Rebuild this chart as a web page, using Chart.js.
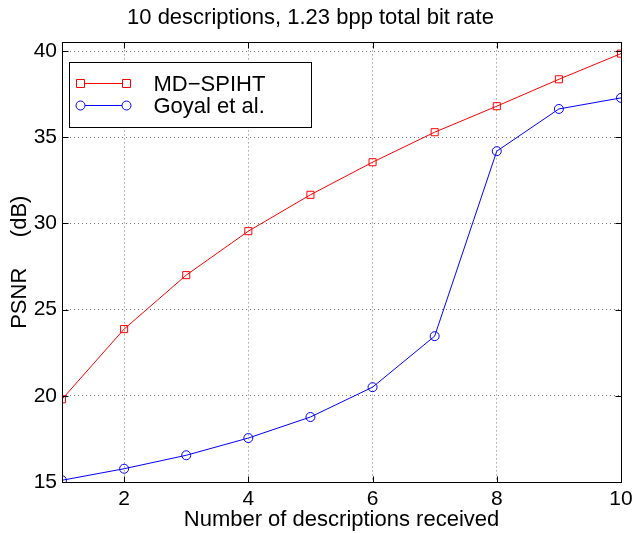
<!DOCTYPE html>
<html>
<head>
<meta charset="utf-8">
<script src="https://cdn.jsdelivr.net/npm/chart.js@4/dist/chart.umd.min.js"></script>
<style>
  html, body { margin: 0; padding: 0; background: #fff; }
  canvas { display: block; }
</style>
</head>
<body>
<canvas id="c" width="634" height="533"></canvas>
<script>
// Number of descriptions received
const descriptions = [1, 2, 3, 4, 5, 6, 7, 8, 9, 10];
// PSNR (dB) for each scheme
const mdSpiht = [19.8, 23.87, 27.0, 29.55, 31.66, 33.55, 35.29, 36.8, 38.36, 39.85];
const goyal   = [15.1, 15.77, 16.55, 17.55, 18.77, 20.5, 23.46, 34.19, 36.64, 37.28];
// Axis ticks
const xTicks = [2, 4, 6, 8, 10];
const yTicks = [15, 20, 25, 30, 35, 40];

const FONT = 'Liberation Sans, Arial, Helvetica, sans-serif';
const pts = arr => arr.map((v, i) => ({ x: descriptions[i], y: v }));

// Box, inward tick marks and in-plot legend (MATLAB style)
const framePlugin = {
  id: 'frame',
  afterDraw(chart) {
    const { ctx, chartArea: a, scales } = chart;
    const L = Math.round(a.left) + 0.5, R = Math.round(a.right) + 0.5;
    const T = Math.round(a.top) + 0.5, B = Math.round(a.bottom) + 0.5;
    const tick = 6;
    ctx.save();
    ctx.strokeStyle = '#000';
    ctx.lineWidth = 1;
    ctx.beginPath();
    xTicks.forEach(v => {
      const x = Math.round(scales.x.getPixelForValue(v)) + 0.5;
      ctx.moveTo(x, B); ctx.lineTo(x, B - tick);
      ctx.moveTo(x, T); ctx.lineTo(x, T + tick);
    });
    yTicks.forEach(v => {
      const y = Math.round(scales.y.getPixelForValue(v)) + 0.5;
      ctx.moveTo(L, y); ctx.lineTo(L + tick, y);
      ctx.moveTo(R, y); ctx.lineTo(R - tick, y);
    });
    ctx.stroke();
    ctx.strokeRect(L, T, R - L, B - T);

    // legend
    const lx = L + 7, ly = T + 20, lw = 242, lh = 65;
    ctx.fillStyle = '#fff';
    ctx.fillRect(lx, ly, lw, lh);
    ctx.strokeStyle = '#000';
    ctx.strokeRect(lx, ly, lw, lh);
    const entries = [
      { text: chart.data.datasets[0].label, color: chart.data.datasets[0].borderColor, shape: 'rect', y: ly + 21 },
      { text: chart.data.datasets[1].label, color: chart.data.datasets[1].borderColor, shape: 'circle', y: ly + 43 }
    ];
    entries.forEach(e => {
      const x1 = lx + 11, x2 = lx + 57;
      ctx.strokeStyle = e.color;
      ctx.beginPath(); ctx.moveTo(x1, e.y); ctx.lineTo(x2, e.y); ctx.stroke();
      [x1, x2].forEach(x => {
        ctx.beginPath();
        if (e.shape === 'rect') ctx.rect(x - 4, e.y - 4, 8, 8);
        else ctx.arc(x, e.y, 4.5, 0, Math.PI * 2);
        ctx.fillStyle = '#fff';
        ctx.fill();
        ctx.stroke();
      });
      ctx.fillStyle = '#000';
      ctx.font = '22px ' + FONT;
      ctx.textBaseline = 'middle';
      ctx.textAlign = 'left';
      ctx.fillText(e.text, lx + 84, e.y + 1);
    });
    ctx.restore();
  }
};

new Chart(document.getElementById('c'), {
  type: 'line',
  data: {
    datasets: [
      {
        label: 'MD\u2212SPIHT',
        data: pts(mdSpiht),
        borderColor: '#ff0000',
        backgroundColor: 'rgba(0,0,0,0)',
        borderWidth: 1,
        pointStyle: 'rect',
        pointRadius: 5,
        pointBorderWidth: 1,
        pointBackgroundColor: 'rgba(0,0,0,0)',
        tension: 0
      },
      {
        label: 'Goyal et al.',
        data: pts(goyal),
        borderColor: '#0000ff',
        backgroundColor: 'rgba(0,0,0,0)',
        borderWidth: 1,
        pointStyle: 'circle',
        pointRadius: 4.5,
        pointBorderWidth: 1,
        pointBackgroundColor: 'rgba(0,0,0,0)',
        tension: 0
      }
    ]
  },
  options: {
    responsive: false,
    animation: false,
    layout: { padding: { left: 0, right: 13, top: 0, bottom: 0 } },
    plugins: {
      legend: { display: false },
      tooltip: { enabled: false },
      title: {
        display: true,
        text: '10 descriptions, 1.23 bpp total bit rate',
        color: '#000',
        font: { family: FONT, size: 22, weight: 'normal', lineHeight: 1.2 },
        padding: { top: 5, bottom: 11 }
      }
    },
    scales: {
      x: {
        type: 'linear',
        min: 1,
        max: 10,
        afterBuildTicks: s => { s.ticks = xTicks.map(v => ({ value: v })); },
        afterFit: s => { s.height = 51; s.paddingLeft = 0; s.paddingRight = 0; },
        grid: {
          color: 'rgba(0,0,0,0.55)',
          lineWidth: 1,
          drawTicks: false
        },
        border: { display: false, dash: [1, 3] },
        ticks: {
          color: '#000',
          padding: 5,
          maxRotation: 0,
          font: { family: FONT, size: 21 }
        },
        title: {
          display: true,
          text: 'Number of descriptions received',
          color: '#000',
          font: { family: FONT, size: 22, lineHeight: 1.2 },
          padding: { top: 0, bottom: 0 }
        }
      },
      y: {
        type: 'linear',
        min: 15,
        max: 40.5,
        afterBuildTicks: s => { s.ticks = yTicks.map(v => ({ value: v })); },
        afterFit: s => { s.width = 62; },
        grid: {
          color: 'rgba(0,0,0,0.55)',
          lineWidth: 1,
          drawTicks: false
        },
        border: { display: false, dash: [1, 3] },
        ticks: {
          color: '#000',
          padding: 5,
          font: { family: FONT, size: 21 }
        },
        title: {
          display: true,
          text: 'PSNR     (dB)',
          color: '#000',
          font: { family: FONT, size: 22, lineHeight: 1.2 },
          padding: { top: 7, bottom: 0 }
        }
      }
    }
  },
  plugins: [framePlugin]
});
</script>
</body>
</html>
